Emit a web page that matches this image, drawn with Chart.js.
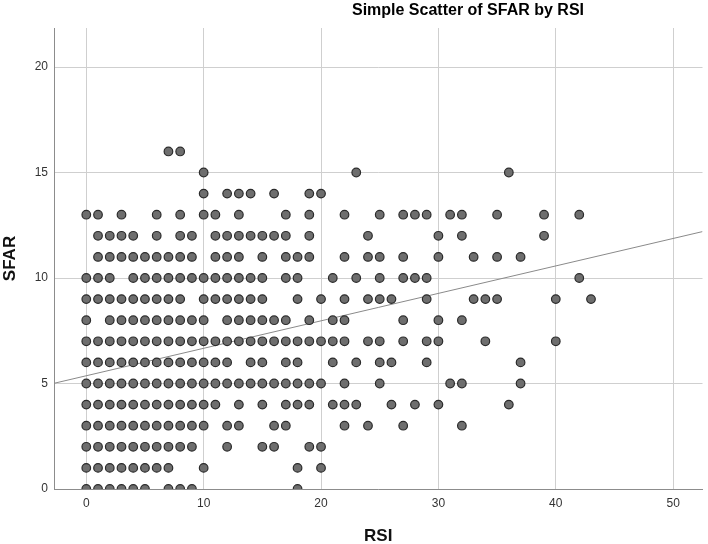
<!DOCTYPE html>
<html lang="en">
<head>
  <meta charset="UTF-8" />
  <title>Simple Scatter of SFAR by RSI</title>
  <script src="https://cdn.jsdelivr.net/npm/chart.js"></script>
  <style>
    body { margin: 0; background: #fff; }
    #wrap { width: 708px; height: 544px; }
  </style>
</head>
<body>
<div id="wrap"><canvas id="chart" width="708" height="544"></canvas></div>
<script>
// RSI values observed at each SFAR level (index = SFAR)
const sfarLevels = [0, 1, 2, 3, 4, 5, 6, 7, 8, 9, 10, 11, 12, 13, 14, 15, 16];
const rsiAtSfar = [
  [0, 1, 2, 3, 4, 5, 7, 8, 9, 18],
  [0, 1, 2, 3, 4, 5, 6, 7, 10, 18, 20],
  [0, 1, 2, 3, 4, 5, 6, 7, 8, 9, 12, 15, 16, 19, 20],
  [0, 1, 2, 3, 4, 5, 6, 7, 8, 9, 10, 12, 13, 16, 17, 22, 24, 27, 32],
  [0, 1, 2, 3, 4, 5, 6, 7, 8, 9, 10, 11, 13, 15, 17, 18, 19, 21, 22, 23, 26, 28, 30, 36],
  [0, 1, 2, 3, 4, 5, 6, 7, 8, 9, 10, 11, 12, 13, 14, 15, 16, 17, 18, 19, 20, 22, 25, 31, 32, 37],
  [0, 1, 2, 3, 4, 5, 6, 7, 8, 9, 10, 11, 12, 14, 15, 17, 18, 21, 23, 25, 26, 29, 37],
  [0, 1, 2, 3, 4, 5, 6, 7, 8, 9, 10, 11, 12, 13, 14, 15, 16, 17, 18, 19, 20, 21, 22, 24, 25, 27, 29, 30, 34, 40],
  [0, 2, 3, 4, 5, 6, 7, 8, 9, 10, 12, 13, 14, 15, 16, 17, 19, 21, 22, 27, 30, 32],
  [0, 1, 2, 3, 4, 5, 6, 7, 8, 10, 11, 12, 13, 14, 15, 18, 20, 22, 24, 25, 26, 29, 33, 34, 35, 40, 43],
  [0, 1, 2, 4, 5, 6, 7, 8, 9, 10, 11, 12, 13, 14, 15, 17, 18, 21, 23, 25, 27, 28, 29, 42],
  [1, 2, 3, 4, 5, 6, 7, 8, 9, 11, 12, 13, 15, 17, 18, 19, 22, 24, 25, 27, 30, 33, 35, 37],
  [1, 2, 3, 4, 6, 8, 9, 11, 12, 13, 14, 15, 16, 17, 19, 24, 30, 32, 39],
  [0, 1, 3, 6, 8, 10, 11, 13, 17, 19, 22, 25, 27, 28, 29, 31, 32, 35, 39, 42],
  [10, 12, 13, 14, 16, 19, 20],
  [10, 23, 36],
  [7, 8]
];

// fit line endpoints (read at the plot edges)
const fitX = [-2.75, 52.5];
const fitY = [5.01, 12.2];

const xTicks = [0, 10, 20, 30, 40, 50];
const yTicks = [0, 5, 10, 15, 20];

const points = [];
sfarLevels.forEach((s, i) => {
  rsiAtSfar[i].forEach(r => points.push({ x: r, y: s }));
});

const titlePlugin = {
  id: "spssTitle",
  afterDraw(chart) {
    const ctx = chart.ctx;
    ctx.save();
    ctx.font = "bold 16px 'Liberation Sans', Arial, sans-serif";
    ctx.fillStyle = "#000";
    ctx.textAlign = "center";
    ctx.textBaseline = "middle";
    ctx.fillText("Simple Scatter of SFAR by RSI", chart.width * 0.661, 11);
    ctx.restore();
  }
};

new Chart(document.getElementById("chart"), {
  type: "scatter",
  data: {
    datasets: [
      {
        label: "SFAR",
        data: points,
        pointRadius: 4.3,
        pointBorderWidth: 1.2,
        pointBackgroundColor: "#6e6e6e",
        pointBorderColor: "#2b2b2b"
      },
      {
        label: "Fit",
        type: "line",
        data: fitX.map((x, i) => ({ x: x, y: fitY[i] })),
        borderColor: "#8a8a8a",
        borderWidth: 1,
        pointRadius: 0,
        fill: false
      }
    ]
  },
  options: {
    responsive: false,
    animation: false,
    layout: { padding: { top: 28, right: 5, left: 0, bottom: 0 } },
    plugins: { legend: { display: false }, tooltip: { enabled: false } },
    scales: {
      x: {
        type: "linear",
        min: -2.75,
        max: 52.5,
        afterFit: s => { s.height = 55; },
        afterBuildTicks: s => { s.ticks = xTicks.map(v => ({ value: v })); },
        grid: { color: "#cfcfcf", lineWidth: 1, drawTicks: false },
        border: { color: "#8c8c8c", width: 1 },
        ticks: {
          padding: 7,
          color: "#333",
          font: { family: "'Liberation Sans', Arial, sans-serif", size: 12 }
        },
        title: {
          display: true,
          text: "RSI",
          color: "#111",
          font: { family: "'Liberation Sans', Arial, sans-serif", size: 17, weight: "bold" },
          padding: { top: 0, bottom: -3 }
        }
      },
      y: {
        type: "linear",
        min: 0,
        max: 21.85,
        afterFit: s => { s.width = 54; },
        afterBuildTicks: s => { s.ticks = yTicks.map(v => ({ value: v })); },
        grid: { color: "#cfcfcf", lineWidth: 1, drawTicks: false },
        border: { color: "#8c8c8c", width: 1 },
        ticks: {
          padding: 6,
          color: "#333",
          font: { family: "'Liberation Sans', Arial, sans-serif", size: 12 }
        },
        title: {
          display: true,
          text: "SFAR",
          color: "#111",
          font: { family: "'Liberation Sans', Arial, sans-serif", size: 17, weight: "bold" },
          padding: { top: 0, bottom: 0 }
        }
      }
    }
  },
  plugins: [titlePlugin]
});
</script>
</body>
</html>
